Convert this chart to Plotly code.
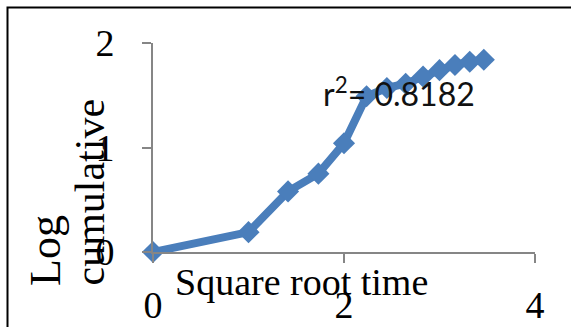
import plotly.graph_objects as go

sqrt_time = [0, 1.0, 1.414, 1.732, 2.0, 2.236, 2.449, 2.646, 2.828, 3.0, 3.162, 3.317, 3.464]
log_cumulative = [0.0, 0.19, 0.58, 0.75, 1.04, 1.49, 1.57, 1.61, 1.68, 1.74, 1.79, 1.82, 1.84]
x_ticks = [0, 2, 4]
y_ticks = [0, 1, 2]
r2_text = "r<sup>2</sup>= 0.8182"

W, H = 571, 327
L, R, T, B = 153, 36, 43, 75
pw, ph = W - L - R, H - T - B

def px(x):
    return (x - L) / pw

def py(y):
    return (H - B - y) / ph

blue = "#4a7ebb"
axis_gray = "#868686"
serif = "Liberation Serif"
FS = 38

fig = go.Figure()
fig.add_trace(go.Scatter(
    x=sqrt_time, y=log_cumulative, mode="lines+markers",
    line=dict(color=blue, width=8),
    marker=dict(symbol="diamond", size=17, color=blue),
    cliponaxis=False, showlegend=False, hoverinfo="skip",
))

fig.update_layout(
    width=W, height=H,
    margin=dict(l=L, r=R, t=T, b=B, autoexpand=False),
    paper_bgcolor="white", plot_bgcolor="white",
    xaxis=dict(range=[0, 4], tickvals=x_ticks, ticktext=[str(v) for v in x_ticks],
               showline=True, linecolor=axis_gray, linewidth=2, automargin=False,
               ticks="outside", ticklen=9, tickwidth=2, tickcolor=axis_gray,
               showgrid=False, zeroline=False, ticklabelstandoff=9,
               tickfont=dict(family=serif, size=FS, color="black")),
    yaxis=dict(range=[0, 2], tickvals=y_ticks, ticktext=[str(v) for v in y_ticks],
               showline=True, linecolor=axis_gray, linewidth=2, automargin=False,
               ticks="outside", ticklen=9, tickwidth=2, tickcolor=axis_gray,
               showgrid=False, zeroline=False, ticklabelstandoff=20,
               tickfont=dict(family=serif, size=FS, color="black")),
    font=dict(family=serif, color="black"),
)

fig.add_annotation(text="Square root time", xref="paper", yref="paper",
                   x=px(301), y=py(282), xanchor="center", yanchor="middle",
                   showarrow=False, font=dict(family=serif, size=FS, color="black"))
fig.add_annotation(text="Log", xref="paper", yref="paper",
                   x=px(45), y=py(250), xanchor="center", yanchor="middle",
                   textangle=-90,
                   showarrow=False, font=dict(family=serif, size=44, color="black"))
fig.add_annotation(text="cumulative", xref="paper", yref="paper",
                   x=px(89), y=py(192.5), xanchor="center", yanchor="middle",
                   textangle=-90,
                   showarrow=False, font=dict(family=serif, size=42, color="black"))
fig.add_annotation(text=r2_text, xref="paper", yref="paper",
                   x=px(321), y=py(92), xanchor="left", yanchor="middle",
                   showarrow=False, font=dict(family="Lato", size=32, color="#111111"))

fig.add_shape(type="rect", xref="paper", yref="paper",
              x0=px(7.5), x1=px(700), y0=py(700), y1=py(7.5),
              line=dict(color="black", width=2), fillcolor="rgba(0,0,0,0)", layer="above")

fig.write_html("out.html", config={"displayModeBar": False},
               post_script="document.body.style.margin='0';document.body.style.padding='0';")
